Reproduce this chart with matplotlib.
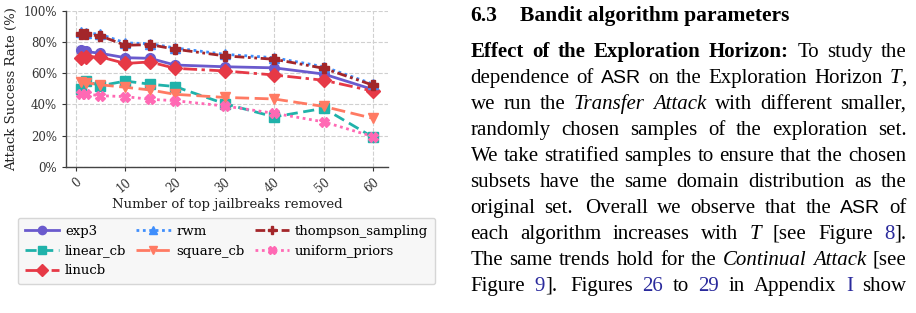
import matplotlib
matplotlib.use("Agg")
import matplotlib.pyplot as plt

# data
x_removed = [1, 2, 5, 10, 15, 20, 30, 40, 50, 60]
exp3 = [74.8, 74.0, 72.8, 70.0, 69.6, 65.3, 64.2, 63.5, 59.5, 49.5]
linear_cb = [50.0, 55.0, 52.0, 55.0, 53.0, 51.5, 40.5, 32.0, 37.5, 18.8]
linucb = [70.0, 70.7, 70.5, 66.3, 67.3, 63.2, 61.5, 58.9, 55.5, 48.5]
rwm = [86.5, 86.0, 85.0, 79.5, 79.0, 76.3, 72.2, 70.0, 64.2, 53.0]
square_cb = [54.5, 54.0, 52.6, 51.0, 49.3, 46.5, 44.5, 43.5, 38.7, 31.0]
thompson_sampling = [85.2, 85.0, 84.0, 78.0, 78.4, 75.5, 71.2, 69.0, 63.2, 52.3]
uniform_priors = [47.0, 46.7, 45.6, 45.0, 43.3, 42.4, 39.0, 34.3, 28.8, 19.3]

series = [
    ("exp3", exp3, "#6a5acd", "-", "o"),
    ("linear_cb", linear_cb, "#20b2aa", (0, (4, 2)), "s"),
    ("linucb", linucb, "#e63946", (0, (5, 1.6, 1.2, 1.6)), "D"),
    ("rwm", rwm, "#3f8efc", (0, (1, 1.3)), "^"),
    ("square_cb", square_cb, "#ff7a63", (0, (5, 2)), "v"),
    ("thompson_sampling", thompson_sampling, "#a3262a", (0, (3.5, 1.3, 1, 1.3, 1, 1.3)), "P"),
    ("uniform_priors", uniform_priors, "#ff69b4", (0, (1, 1.3)), "X"),
]

W, H = 916, 313
CHART_FONT = "DejaVu Serif"
TEXT_FONT = "Liberation Serif"

fig = plt.figure(figsize=(W / 100, H / 100), dpi=100)
ax = fig.add_axes([66 / W, 1 - 166.7 / H, (388 - 66) / W, (166.7 - 11) / H])

for name, vals, color, ls, mk in series:
    ax.plot(x_removed, vals, color=color, linestyle=ls, marker=mk, lw=2,
            markersize=7, label=name)

ax.set_ylim(0, 100)
ax.set_xlim(-1.95, 62.95)
ax.set_xticks(range(0, 61, 10))
ax.set_yticks(range(0, 101, 20))
ax.set_yticklabels([f"{v}%" for v in range(0, 101, 20)])
ax.grid(True, linestyle="--", color="#d0d0d0", linewidth=0.8)
ax.set_axisbelow(True)
for side in ["top", "right"]:
    ax.spines[side].set_visible(False)
for side in ["left", "bottom"]:
    ax.spines[side].set_color("#444444")
    ax.spines[side].set_linewidth(1.0)
ax.tick_params(labelsize=8.5, colors="#333333", length=3, width=0.8)
for lab in ax.get_xticklabels() + ax.get_yticklabels():
    lab.set_family(CHART_FONT)
plt.setp(ax.get_xticklabels(), rotation=40, ha="right", rotation_mode="anchor")
ax.set_xlabel("Number of top jailbreaks removed", family=CHART_FONT,
              fontsize=9.5, color="#222222", labelpad=2)
ax.set_ylabel("Attack Success Rate (%)", family=CHART_FONT, fontsize=9.5,
              color="#222222", labelpad=4)

leg = ax.legend(loc="upper center", bbox_to_anchor=(226.5 / W, 1 - 217.7 / H),
                bbox_transform=fig.transFigure, ncol=3, frameon=True,
                prop={"family": CHART_FONT, "size": 9.5}, handlelength=2.6,
                handletextpad=0.45, columnspacing=0.75, labelspacing=0.5,
                borderpad=0.55, borderaxespad=0, markerscale=0.85)
leg.get_frame().set_facecolor("#f7f7f7")
leg.get_frame().set_edgecolor("#d6d6d6")
leg.get_frame().set_alpha(1)

# text column on the right, justified by hand
FS = 15
STYLES = {
    "n": dict(family=TEXT_FONT),
    "b": dict(family=TEXT_FONT, weight="bold"),
    "i": dict(family=TEXT_FONT, style="italic"),
    "l": dict(family=TEXT_FONT, color="#2a2a9c"),
    "s": dict(family="Liberation Sans", fontsize=FS - 1),
}

heading_num = "6.3"
heading = "Bandit algorithm parameters"
paragraph = [
    [("Effect of the Exploration Horizon:", "b"), (" To study the", "n")],
    [("dependence of ", "n"), ("ASR", "s"), (" on the Exploration Horizon ", "n"), ("T", "i"), (",", "n")],
    [("we run the ", "n"), ("Transfer Attack", "i"), (" with different smaller,", "n")],
    [("randomly chosen samples of the exploration set.", "n")],
    [("We take stratified samples to ensure that the chosen", "n")],
    [("subsets have the same domain distribution as the", "n")],
    [("original set. Overall we observe that the ", "n"), ("ASR", "s"), (" of", "n")],
    [("each algorithm increases with ", "n"), ("T", "i"), (" [see Figure ", "n"), ("8", "l"), ("].", "n")],
    [("The same trends hold for the ", "n"), ("Continual Attack", "i"), (" [see", "n")],
    [("Figure ", "n"), ("9", "l"), ("]. Figures ", "n"), ("26", "l"), (" to ", "n"), ("29", "l"),
     (" in Appendix ", "n"), ("I", "l"), (" show", "n")],
]

renderer = fig.canvas.get_renderer()


def run_width(text, st):
    kw = dict(STYLES[st])
    kw.setdefault("fontsize", FS)
    t = fig.text(0, 0, text, **kw)
    w = t.get_window_extent(renderer).width
    t.remove()
    return w


def to_words(runs):
    words = [[]]
    for text, st in runs:
        for k, piece in enumerate(text.split(" ")):
            if k > 0:
                words.append([])
            if piece:
                words[-1].append((piece, st))
    return [w for w in words if w]


def put(x, y, text, st):
    kw = dict(STYLES[st])
    kw.setdefault("fontsize", FS)
    fig.text(x / W, 1 - y / H, text, va="baseline", ha="left", **kw)


LEFT, RIGHT = 470.5, 906.5
fig.text(LEFT / W, 1 - 20.7 / H, heading_num, family=TEXT_FONT, weight="bold",
         fontsize=15.5, va="baseline")
fig.text(520 / W, 1 - 20.7 / H, heading, family=TEXT_FONT, weight="bold",
         fontsize=15.5, va="baseline")

y = 56.7
for runs in paragraph:
    words = to_words(runs)
    widths = [[run_width(t, s) for t, s in w] for w in words]
    total = sum(sum(ws) for ws in widths)
    # a little more room after a full stop, as TeX does
    weights = [1.4 if w[-1][0].endswith(".") else 1.0 for w in words[:-1]]
    unit = (RIGHT - LEFT - total) / sum(weights)
    x = LEFT
    for i, (w, ws) in enumerate(zip(words, widths)):
        for (t, s), rw in zip(w, ws):
            put(x, y, t, s)
            x += rw
        if i < len(weights):
            x += unit * weights[i]
    y += 26

fig.savefig("out.png", dpi=100)
